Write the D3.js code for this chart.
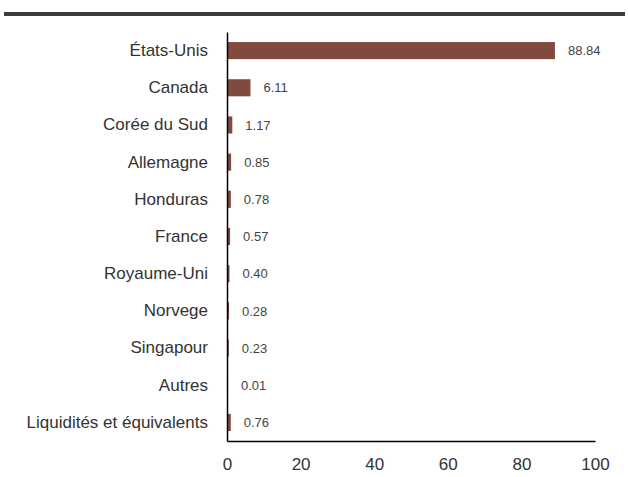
<!DOCTYPE html>
<html>
<head>
<meta charset="utf-8">
<script src="https://cdn.jsdelivr.net/npm/d3@7"></script>
<style>
body{margin:0;background:#fff;}
svg{display:block;font-family:"Liberation Sans",Arial,sans-serif;}
</style>
</head>
<body>
<svg id="chart" width="628" height="477"></svg>
<script>
var countries = ["États-Unis","Canada","Corée du Sud","Allemagne","Honduras","France","Royaume-Uni","Norvege","Singapour","Autres","Liquidités et équivalents"];
var weights = [88.84,6.11,1.17,0.85,0.78,0.57,0.40,0.28,0.23,0.01,0.76];
var xTicks = [0,20,40,60,80,100];

var svg = d3.select("#chart");

// top rule
svg.append("rect").attr("x",4).attr("y",12).attr("width",621).attr("height",4).attr("fill","#3d3d3d");

var x = d3.scaleLinear().domain([0,100]).range([227,595]);
var y = d3.scaleBand().domain(countries).range([32,441]).paddingInner(0.54).paddingOuter(0.27);

svg.append("g").selectAll("rect")
	.data(countries)
	.enter()
	.append("rect")
	.attr("x",x(0)+1)
	.attr("y",function(d){return y(d);})
	.attr("width",function(d,i){return Math.max(0,x(weights[i])-x(0));})
	.attr("height",y.bandwidth())
	.attr("fill","#804a41");

svg.append("g").selectAll("text")
	.data(countries)
	.enter()
	.append("text")
	.attr("x",function(d,i){return x(weights[i])+14;})
	.attr("y",function(d){return y(d)+y.bandwidth()/2;})
	.attr("dy","0.36em")
	.attr("font-size",13)
	.attr("fill","#444")
	.text(function(d,i){return weights[i].toFixed(2);});

var yAxis = d3.axisLeft(y).tickSize(0).tickPadding(19);
svg.append("g")
	.attr("transform","translate("+x(0)+",0)")
	.call(yAxis)
	.call(function(g){g.select(".domain").attr("stroke","#000").attr("stroke-width",1.5);})
	.selectAll("text")
	.attr("font-size",17)
	.attr("font-family",null)
	.attr("fill","#333");

var xAxis = d3.axisBottom(x).tickValues(xTicks).tickSize(0).tickPadding(17).tickSizeOuter(0);
svg.append("g")
	.attr("transform","translate(0,441)")
	.call(xAxis)
	.call(function(g){g.select(".domain").attr("stroke","#000").attr("stroke-width",1.5);})
	.selectAll("text")
	.attr("font-size",17)
	.attr("font-family",null)
	.attr("fill","#333");
</script>
</body>
</html>
